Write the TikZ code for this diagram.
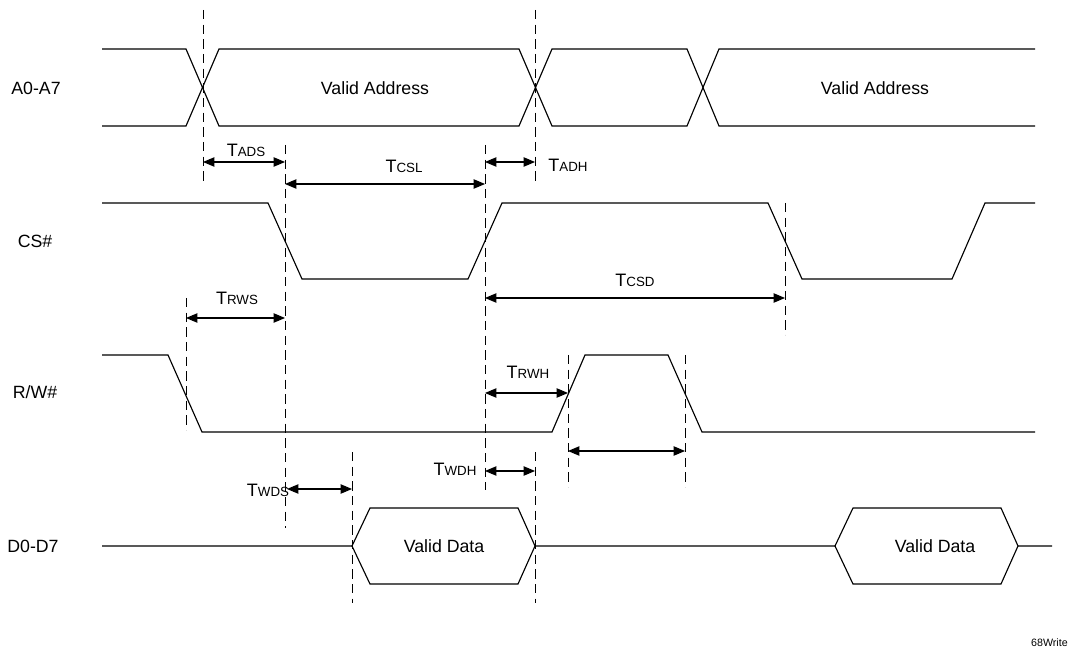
\documentclass[tikz,border=0pt]{standalone}
\usepackage{fontspec}
\setmainfont{Liberation Sans}
\usetikzlibrary{arrows.meta}
\newcommand{\tmlab}[1]{{\fontsize{13.5}{15}\selectfont T}{\fontsize{10}{12}\selectfont #1}}
\begin{document}
\begin{tikzpicture}[x=0.75pt,y=-0.75pt,
  wave/.style={line width=0.85pt, line join=miter},
  guide/.style={line width=0.7pt, dash pattern=on 7pt off 4pt},
  dimarrow/.style={line width=0.8pt, {Triangle[length=8.5pt,width=7pt]}-{Triangle[length=8.5pt,width=7pt]}},
  sig/.style={font=\fontsize{13.3}{15}\selectfont, inner sep=0pt},
  tlab/.style={inner sep=0pt}
]
\useasboundingbox (0,0) rectangle (1068,652);

% signal names
\node[sig] (nA) at (36,88) {A0-A7};
\node[sig] (nCS) at (35,241) {CS\#};
\node[sig] (nRW) at (35,392) {R/W\#};
\node[sig] (nD) at (33,546) {D0-D7};

% A0-A7
\draw[wave] (102,49) -- (186,49) -- (219,126) -- (519,126) -- (552,49) -- (687,49) -- (719,126) -- (1035,126);
\draw[wave] (102,126) -- (186,126) -- (219,49) -- (519,49) -- (552,126) -- (687,126) -- (719,49) -- (1035,49);
\node[sig] (va1) at (375,88) {Valid Address};
\node[sig] (va2) at (875,88) {Valid Address};

% CS#
\draw[wave] (102,203) -- (268,203) -- (302,279) -- (468,279) -- (502,203) -- (768,203) -- (802,279) -- (952,279) -- (985,203) -- (1035,203);

% R/W#
\draw[wave] (102,355) -- (168,355) -- (202,432) -- (552,432) -- (585,355) -- (668,355) -- (702,432) -- (1035,432);

% D0-D7
\draw[wave] (102,546) -- (352,546) -- (370,508) -- (518,508) -- (535,546) -- (835,546) -- (853,508) -- (1001,508) -- (1018,546) -- (1052,546);
\draw[wave] (352,546) -- (370,584) -- (518,584) -- (535,546);
\draw[wave] (835,546) -- (853,584) -- (1001,584) -- (1018,546);
\node[sig] (vd1) at (444,546) {Valid Data};
\node[sig] (vd2) at (935,546) {Valid Data};

% guide lines
\coordinate (g1t) at (203,10);  \coordinate (g1b) at (203,185);
\coordinate (g2t) at (535,10);  \coordinate (g2b) at (535,185);
\coordinate (g3t) at (285,145); \coordinate (g3b) at (285,528);
\coordinate (g4t) at (485,145); \coordinate (g4b) at (485,490);
\coordinate (g5t) at (186,298); \coordinate (g5b) at (186,430);
\coordinate (g6t) at (785,203); \coordinate (g6b) at (785,335);
\coordinate (g7t) at (568,355); \coordinate (g7b) at (568,487);
\coordinate (g8t) at (685,355); \coordinate (g8b) at (685,487);
\coordinate (g9t) at (352,452); \coordinate (g9b) at (352,603);
\coordinate (g10t) at (535,452); \coordinate (g10b) at (535,603);
\foreach \i in {1,...,10} \draw[guide] (g\i t) -- (g\i b);

% timing arrows
\coordinate (adsL) at (203,162); \coordinate (adsR) at (285,162);
\coordinate (cslL) at (285,184); \coordinate (cslR) at (485,184);
\coordinate (adhL) at (485,162); \coordinate (adhR) at (535,162);
\coordinate (rwsL) at (186,318); \coordinate (rwsR) at (285,318);
\coordinate (csdL) at (485,298); \coordinate (csdR) at (785,298);
\coordinate (rwhL) at (485,393); \coordinate (rwhR) at (568,393);
\coordinate (hiL) at (568,451);  \coordinate (hiR) at (685,451);
\coordinate (wdhL) at (485,471); \coordinate (wdhR) at (535,471);
\coordinate (wdsL) at (287,489); \coordinate (wdsR) at (352,489);
\draw[dimarrow] (adsL) -- (adsR);
\draw[dimarrow] (cslL) -- (cslR);
\draw[dimarrow] (adhL) -- (adhR);
\draw[dimarrow] (rwsL) -- (rwsR);
\draw[dimarrow] (csdL) -- (csdR);
\draw[dimarrow] (rwhL) -- (rwhR);
\draw[dimarrow] (hiL) -- (hiR);
\draw[dimarrow] (wdhL) -- (wdhR);
\draw[dimarrow] (wdsL) -- (wdsR);

% timing labels
\node[tlab] (tads) at (246,150) {\tmlab{ADS}};
\node[tlab] (tcsl) at (404,166) {\tmlab{CSL}};
\node[tlab] (tadh) at (568,165) {\tmlab{ADH}};
\node[tlab] (trws) at (237,298) {\tmlab{RWS}};
\node[tlab] (tcsd) at (635,280) {\tmlab{CSD}};
\node[tlab] (trwh) at (528,372) {\tmlab{RWH}};
\node[tlab] (twdh) at (455,469) {\tmlab{WDH}};
\node[tlab] (twds) at (268,490) {\tmlab{WDS}};

\node[inner sep=0pt, anchor=east, font=\fontsize{8}{9}\selectfont] (fig) at (1068,643) {68Write};
\end{tikzpicture}
\end{document}
